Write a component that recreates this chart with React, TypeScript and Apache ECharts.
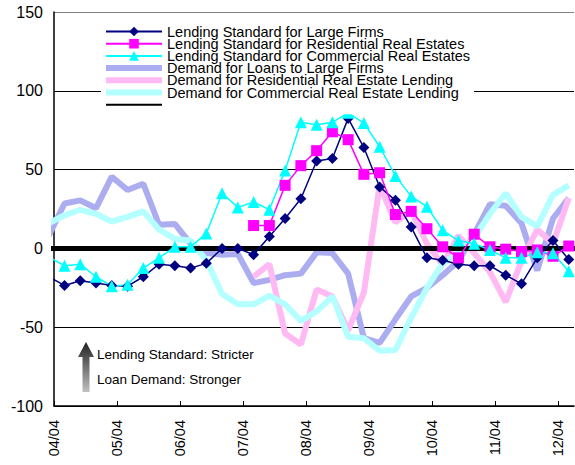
import React, { useEffect, useRef } from "react";
import * as echarts from "echarts";

// Survey quarters (yy/mm); first one is just before the 04/04 axis start
const quarters = ['04/03','04/06','04/09','04/12','05/03','05/06','05/09','05/12','06/03','06/06','06/09','06/12','07/03','07/06','07/09','07/12','08/03','08/06','08/09','08/12','09/03','09/06','09/09','09/12','10/03','10/06','10/09','10/12','11/03','11/06','11/09','11/12','12/03','12/06'];

const xTickLabels = ['04/04','05/04','06/04','07/04','08/04','09/04','10/04','11/04','12/04'];

const stdLarge = [-18, -23.5, -20.5, -22, -23.5, -24, -18, -10, -11, -12.5, -9.5, 0, 0, -4, 7.5, 19, 31.5, 55.5, 57, 82.5, 64, 39, 30.5, 13.5, -6, -7.5, -10, -11, -11, -17, -22.5, -6, 5, -7];
const stdResidential = [null, null, null, null, null, null, null, null, null, null, null, null, null, 14.5, 14.5, 40, 52.5, 62, 74, 69, 47, 48, 21.5, 23.5, 12.5, 1, -6, 9, 1, -0.5, -2, -1, -5, 1.5];
const stdCommercial = [-5.5, -11, -10, -18, -24, -23, -12.5, -6, 1, 1, 9.5, 35, 26, 29.5, 24.5, 49.5, 80, 78.5, 80, 86, 79.5, 64.5, 46, 33, 26.5, 11.5, 5, 3, -1, -6, -6, -2.5, -3, -14.5];
const demLarge = [8, 28.5, 30.5, 25.5, 45.5, 37, 41, 15, 15.5, 3, -3, -4, -3.5, -22, -20, -17, -16, -2.5, -3, -16, -57, -60, -45, -30.5, -25, -17, -8, 9, 28, 27, 16, -14, 19, 32];
const demResidential = [null, null, null, null, null, null, null, null, null, null, null, null, null, -18, -10, -54, -61, -26, -30.5, -52, -28, 40, 16.5, 24, 3, -10.5, 8, -3, -15, -34, -8, 12, 3, 32];
const demCommercial = [16, 21, 24.5, 22, 17, 20, 23.5, 12, 6, 5, -7.5, -29, -35.5, -35.5, -30, -35.5, -46, -40, -30.5, -56, -57, -65, -64.5, -44, -25, -9.5, -3, 6.5, 22, 35, 20, 14, 34, 40];

const FONT = "'Liberation Sans', Arial, sans-serif";

// months since April 2004
function monthIndex(q: string): number {
  const [yy, mm] = q.split('/').map(Number);
  return (yy - 4) * 12 + (mm - 4);
}

function pairs(values: (number | null)[]) {
  return quarters.map((q, i) => [monthIndex(q), values[i]]);
}

const noSymbol = { color: "rgba(0,0,0,0)", borderColor: "rgba(0,0,0,0)", borderWidth: 0 };

export default function App() {
  const ref = useRef<HTMLDivElement>(null);
  useEffect(() => {
    document.body.style.margin = "0";
    const chart = echarts.init(ref.current!, undefined, { renderer: "svg" });
    const xMin = 0;
    const xMax = 99;
    const option: any = {
      animation: false,
      backgroundColor: "#fff",
      textStyle: { fontFamily: FONT },
      grid: { left: 54, top: 12, right: 1, bottom: 59, containLabel: false },
      legend: {
        orient: "vertical",
        left: 101,
        top: 22,
        padding: [2, 4, 2, 2],
        backgroundColor: "#fff",
        itemWidth: 56,
        itemHeight: 12,
        itemGap: -2.8,
        textStyle: { fontFamily: FONT, fontSize: 14.5, color: "#000", lineHeight: 12 },
        data: [
          { name: "Lending Standard for Large Firms" },
          { name: "Lending Standard for Residential Real Estates" },
          { name: "Lending Standard for Commercial Real Estates" },
          { name: "Demand for Loans to Large Firms", itemStyle: noSymbol, lineStyle: { width: 6 } },
          { name: "Demand for Residential Real Estate Lending", itemStyle: noSymbol, lineStyle: { width: 6 } },
          { name: "Demand for Commercial Real Estate Lending", itemStyle: noSymbol, lineStyle: { width: 6 } },
          { name: " ", itemStyle: noSymbol, lineStyle: { width: 2 } },
        ],
      },
      xAxis: {
        type: "value",
        min: xMin,
        max: xMax,
        interval: 12,
        axisLine: { show: true, onZero: false, lineStyle: { color: "#000", width: 1.5 } },
        axisTick: { show: true, inside: true, length: 5, lineStyle: { color: "#000" } },
        splitLine: { show: false },
        axisLabel: {
          rotate: 90,
          margin: 14,
          fontSize: 14.5,
          color: "#000",
          fontFamily: FONT,
          showMaxLabel: false,
          formatter: (v: number) => (v % 12 === 0 ? xTickLabels[v / 12] ?? "" : ""),
        },
      },
      yAxis: {
        type: "value",
        min: -100,
        max: 150,
        interval: 50,
        axisLine: { show: true, lineStyle: { color: "#000", width: 1.5 } },
        axisTick: { show: false },
        axisLabel: { fontSize: 16, color: "#000", margin: 11, fontFamily: FONT },
        splitLine: {
          show: true,
          lineStyle: { color: ["#000", "#000", "#000", "#000", "#000", "#808080"], width: 1 },
        },
      },
      series: [
        {
          name: "Demand for Loans to Large Firms",
          type: "line",
          data: pairs(demLarge),
          symbol: "none",
          lineStyle: { color: "#acacf0", width: 6 },
          itemStyle: { color: "#acacf0" },
        },
        {
          name: "Demand for Residential Real Estate Lending",
          type: "line",
          data: pairs(demResidential),
          symbol: "none",
          lineStyle: { color: "#ffbaf3", width: 6 },
          itemStyle: { color: "#ffbaf3" },
        },
        {
          name: "Demand for Commercial Real Estate Lending",
          type: "line",
          data: pairs(demCommercial),
          symbol: "none",
          lineStyle: { color: "#b4ffff", width: 6 },
          itemStyle: { color: "#b4ffff" },
        },
        {
          name: " ",
          type: "line",
          data: [[-1, 0], [xMax + 1, 0]],
          symbol: "none",
          lineStyle: { color: "#000", width: 5 },
          itemStyle: { color: "#000" },
        },
        {
          name: "Lending Standard for Large Firms",
          type: "line",
          data: pairs(stdLarge),
          symbol: "diamond",
          symbolSize: 11,
          lineStyle: { color: "#000080", width: 1.5 },
          itemStyle: { color: "#000080" },
        },
        {
          name: "Lending Standard for Residential Real Estates",
          type: "line",
          data: pairs(stdResidential),
          symbol: "rect",
          symbolSize: 11,
          lineStyle: { color: "#ff00ff", width: 1.5 },
          itemStyle: { color: "#ff00ff" },
        },
        {
          name: "Lending Standard for Commercial Real Estates",
          type: "line",
          data: pairs(stdCommercial),
          symbol: "triangle",
          symbolSize: 12,
          lineStyle: { color: "#00ffff", width: 1.5 },
          itemStyle: { color: "#00ffff" },
        },
      ],
      graphic: [
        {
          type: "polygon",
          shape: {
            points: [[86, 342], [78, 357], [82.5, 357], [82.5, 392], [89.5, 392], [89.5, 357], [94, 357]],
          },
          style: {
            fill: {
              type: "linear", x: 0, y: 0, x2: 0, y2: 1,
              colorStops: [
                { offset: 0, color: "#222" },
                { offset: 1, color: "#c0c0c0" },
              ],
            },
          },
        },
        {
          type: "text",
          left: 97,
          top: 347,
          style: { text: "Lending Standard: Stricter", fontSize: 13.5, fill: "#000", fontFamily: FONT },
        },
        {
          type: "text",
          left: 97,
          top: 372,
          style: { text: "Loan Demand: Stronger", fontSize: 13.5, fill: "#000", fontFamily: FONT },
        },
      ],
    };
    chart.setOption(option);
    return () => chart.dispose();
  }, []);
  return <div ref={ref} style={{ width: 575, height: 465 }} />;
}
